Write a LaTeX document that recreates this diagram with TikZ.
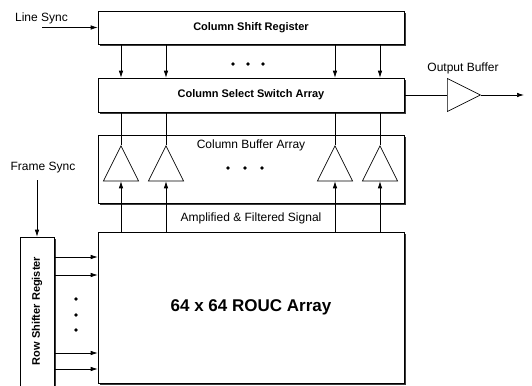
\documentclass[tikz,border=0pt]{standalone}
\usepackage{fontspec}
\setmainfont{Liberation Sans}
\usepackage{tikz}
\usetikzlibrary{arrows.meta,positioning,shapes.geometric,shadows}
\definecolor{ROShadow}{HTML}{3A3A3A}

\tikzset{
  blk/.style={draw, fill=white, line width=0.6pt,
    drop shadow={shadow xshift=2pt, shadow yshift=-2pt, fill=ROShadow, opacity=1}},
  buf/.style={draw, fill=white, line width=0.7pt, isosceles triangle,
    isosceles triangle stretches, minimum width=35pt, minimum height=35pt,
    inner sep=0pt, shape border rotate=90},
  lbl/.style={font=\fontsize{12}{14}\selectfont, inner sep=0pt},
  blbl/.style={font=\fontsize{11}{13}\selectfont\bfseries, inner sep=0pt},
  wire/.style={line width=0.7pt},
  sig/.style={line width=0.7pt, -{Latex[length=7pt,width=4.5pt]}}
}

\begin{document}
\begin{tikzpicture}[x=1pt, y=-1pt]
\useasboundingbox (0,0) rectangle (532,385);
\clip (0,0) rectangle (532,385);

\node[blk, blbl, minimum width=306pt, minimum height=33pt] (csr) at (251,27.5) {Column Shift Register};
\node[blk, blbl, minimum width=306pt, minimum height=34pt] (cssa) at (251,95) {Column Select Switch Array};
\node[blk, minimum width=306pt, minimum height=68pt] (cba) at (251,169) {};
\node[blk, minimum width=306pt, minimum height=151pt,
  font=\fontsize{17}{20}\selectfont\bfseries] (rouc) at (251,307.5) {64 x 64 ROUC Array};
\node[blk, minimum width=34pt, minimum height=155pt] (rsr) at (37,314.5) {};
\node[blbl, rotate=90] (rsrl) at (37,311) {Row Shifter Register};

\node[lbl] (cbal) at (251,145) {Column Buffer Array};
\node[lbl] (afs) at (251,218) {Amplified \& Filtered Signal};
\node[lbl] (ls) at (41.5,18) {Line Sync};
\node[lbl] (fs) at (43,168) {Frame Sync};
\node[lbl] (obl) at (463,68) {Output Buffer};

\foreach \n/\x in {1/121,2/166,3/335,4/380}
  \node[buf, anchor=apex] (b\n) at (\x,145) {};
\node[buf, shape border rotate=0, minimum width=33pt, minimum height=33pt,
  anchor=lower side] (ob) at (447,95) {};

\foreach \n in {1,...,4} {
  \draw[sig] (b\n.apex |- csr.south) -- (b\n.apex |- cssa.north);
  \draw[wire] (b\n.apex |- cssa.south) -- (b\n.apex);
  \draw[sig] (b\n.lower side |- rouc.north) -- (b\n.lower side);
}

\coordinate (lsin) at (42,27.5);
\draw[sig] (lsin) -- (csr.west);
\coordinate (fsin) at (37,180);
\draw[sig] (fsin) -- (rsr.north);
\draw[wire] (cssa.east) -- (ob.lower side);
\coordinate (out) at (524,95);
\draw[sig] (ob.apex) -- (out);

\foreach \y in {257,275,353,369}
  \draw[sig] (rsr.east |- 0,\y) -- (rouc.west |- 0,\y);

\foreach \x in {233,248,263} \fill (\x,64) circle (1.8);
\foreach \x in {228,245,262} \fill (\x,168) circle (1.8);
\foreach \y in {299,315,330} \fill (76,\y) circle (1.8);
\end{tikzpicture}
\end{document}
